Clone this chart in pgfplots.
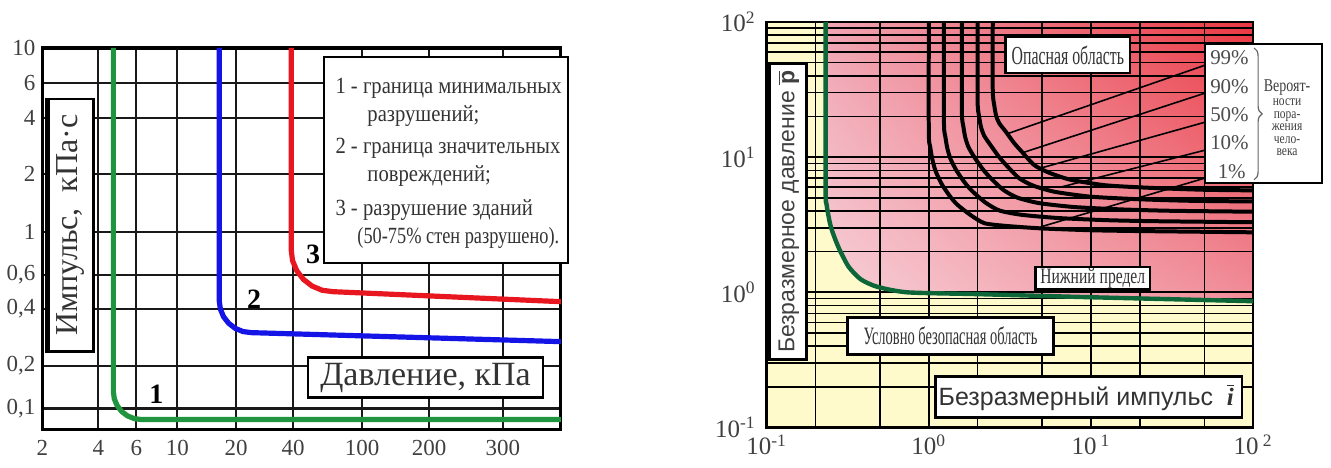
\documentclass[border=0pt]{standalone}
\usepackage{fontspec}
\setmainfont{Liberation Serif}
\setsansfont{Liberation Sans}
\usepackage{graphicx}
\usepackage{pgfplots}
\pgfplotsset{compat=1.18}
\usetikzlibrary{shadings,decorations.pathreplacing}

\definecolor{lineGreen}{RGB}{32,148,62}
\definecolor{lineBlue}{RGB}{20,20,230}
\definecolor{lineRed}{RGB}{232,22,30}
\definecolor{limitGreen}{RGB}{12,102,56}
\definecolor{safeYellow}{RGB}{255,250,204}
\definecolor{pinkLL}{RGB}{247,208,216}
\definecolor{pinkUL}{RGB}{240,164,178}
\definecolor{pinkLR}{RGB}{240,142,154}
\definecolor{pinkUR}{RGB}{234,55,65}

\newcommand{\cond}[2]{\scalebox{#1}[1]{#2}}

\begin{document}
\begin{tikzpicture}
\path (0,0) rectangle (665.5pt,234pt);

% ---------------- left: destruction of buildings ----------------
\begin{axis}[
  at={(20.5pt,19pt)}, anchor=south west,
  scale only axis, width=259.5pt, height=191pt,
  xmin=0, xmax=519, ymin=0, ymax=382,
  xtick={0,56,94,135,194,251,320,387,461},
  xticklabels={2,4,6,10,20,40,100,200,300},
  ytick={21,64,121,155,198,256,312,347,382},
  yticklabels={{0,1},{0,2},{0,4},{0,6},1,2,4,6,10},
  xmajorgrids, ymajorgrids,
  major grid style={black!90, line width=1.1pt},
  major tick length=0pt,
  axis line style={black, line width=1.6pt},
  tick label style={font=\fontsize{11.5}{12}\selectfont, text=black!75},
  xticklabel style={yshift=-2pt},
  set layers,
]
\addplot[lineGreen, line width=2.6pt] coordinates {(71,382) (71,38) (71.95,30.75) (74.75,24)
  (79.2,18.2) (85,13.75) (91.75,10.95) (99,10) (519,10)};
\addplot[lineBlue, line width=2.6pt] coordinates {(177,382) (177,129) (178.1,120.7) (181.3,113)
  (186.4,106.4) (193,101.3) (200.7,98.1) (209,97) (519,88)};
\addplot[lineRed, line width=2.6pt] coordinates {(249,382) (249,180) (250.4,169.1) (254.6,159)
  (261.3,150.3) (270,143.6) (280.1,139.4) (291,138) (519,128)};
\end{axis}

% ---------------- right: dimensionless pressure vs impulse ----------------
\begin{axis}[
  at={(383pt,20pt)}, anchor=south west,
  scale only axis, width=243.5pt, height=203pt,
  xmode=log, ymode=log,
  xmin=0.1, xmax=100, ymin=0.1, ymax=100,
  xtick={0.1,1,10,100},
  xticklabels={10\textsuperscript{-1},10\textsuperscript{0},10\,\textsuperscript{1},10\,\textsuperscript{2}},
  ytick={0.1,1,10,100},
  yticklabels={10\textsuperscript{-1},10\textsuperscript{0},10\textsuperscript{1},10\textsuperscript{2}},
  minor xtick={0.2,0.5,2,5,20,50},
  minor ytick={0.2,0.3,0.4,0.5,0.6,0.7,0.8,0.9,2,3,4,5,6,7,8,9,20,30,40,50,60,70,80,90},
  grid=both,
  major grid style={black, line width=1pt},
  minor grid style={black, line width=0.75pt},
  major tick length=0pt, minor tick length=0pt,
  axis line style={black, line width=1.3pt},
  tick label style={font=\fontsize{12.5}{13}\selectfont, text=black!75},
  yticklabel style={xshift=-2pt},
  set layers,
]
% safe region
\addplot[draw=none, fill=safeYellow, on layer=axis background]
  coordinates {(0.1,0.1) (100,0.1) (100,100) (0.1,100)};
% dangerous region above the lower limit
\addplot[draw=none, on layer=axis background,
  lower left=pinkLL, upper left=pinkUL, lower right=pinkLR, upper right=pinkUR]
  coordinates {(0.231,100) (0.231,6) (0.234,4.5) (0.245,3.3) (0.256,2.75) (0.28,2.1)
    (0.32,1.55) (0.38,1.25) (0.48,1.1) (0.74,1.0) (2,0.97) (10,0.92) (100,0.86) (100,100)};
% lower limit
\addplot[limitGreen, line width=2.2pt, smooth, tension=0.4]
  coordinates {(0.231,100) (0.231,6) (0.234,4.5) (0.245,3.3) (0.256,2.75) (0.28,2.1)
    (0.32,1.55) (0.38,1.25) (0.48,1.1) (0.74,1.0) (2,0.97) (10,0.92) (100,0.86)};
% probability curves 1%, 10%, 50%, 90%, 99%
\addplot[black, line width=2pt, smooth, tension=0.4] coordinates {
  (1.0,100) (1.0,15.29) (1.02,11.95) (1.05,9.73) (1.1,7.92) (1.2,6.34) (1.35,5.14)
  (1.5,4.45) (1.8,3.75) (2.2,3.25) (3,3.10) (5,2.97) (10,2.88) (20,2.84) (100,2.78)};
\addplot[black, line width=2pt, smooth, tension=0.4] coordinates {
  (1.24,100) (1.24,18.15) (1.265,14.19) (1.302,11.58) (1.364,9.64) (1.488,7.89) (1.674,6.44)
  (1.86,5.58) (2.232,4.62) (2.728,4.03) (3.72,3.75) (6.2,3.55) (12.4,3.42) (24.8,3.36) (100,3.3)};
\addplot[black, line width=2pt, smooth, tension=0.4] coordinates {
  (1.6,100) (1.6,21.73) (1.632,16.99) (1.68,13.94) (1.76,11.81) (1.92,9.91) (2.16,8.10)
  (2.4,7.03) (2.88,5.73) (3.52,5.02) (4.8,4.57) (8,4.27) (16,4.10) (32,4.01) (100,3.95)};
\addplot[black, line width=2pt, smooth, tension=0.4] coordinates {
  (2.0,100) (2.0,25.85) (2.04,20.21) (2.1,16.64) (2.2,14.34) (2.4,12.31) (2.7,10.11)
  (3.0,8.74) (3.6,7.00) (4.4,6.16) (6,5.54) (10,5.10) (20,4.88) (40,4.76) (100,4.7)};
\addplot[black, line width=2pt, smooth, tension=0.4] coordinates {
  (2.48,100) (2.48,31.24) (2.53,24.42) (2.604,20.16) (2.728,17.72) (2.976,15.51) (3.348,12.78)
  (3.72,11.08) (4.464,8.75) (5.456,7.72) (7.44,6.82) (12.4,6.19) (24.8,5.91) (49.6,5.74) (100,5.68)};
% leader lines to the probability labels
\addplot[black, line width=0.8pt] coordinates {(3.1,15) (51,48.1)};
\addplot[black, line width=0.8pt] coordinates {(3.8,10.8) (51,29.9)};
\addplot[black, line width=0.8pt] coordinates {(4.9,8.3) (51,18.2)};
\addplot[black, line width=0.8pt] coordinates {(6.5,6.0) (51,11.3)};
\addplot[black, line width=0.8pt] coordinates {(4.9,3.05) (51,7.03)};
\end{axis}

% ---------------- captions and framed labels ----------------
\begin{scope}[shift={(0,234pt)}, x=0.5pt, y=-0.5pt]
  % left chart
  \node[font=\bfseries\fontsize{14}{14}\selectfont] at (155,395) {1};
  \node[font=\bfseries\fontsize{14}{14}\selectfont] at (253,300) {2};
  \node[font=\bfseries\fontsize{14}{14}\selectfont] at (312,255) {3};

  \draw[fill=white, line width=1.2pt] (323,57) rectangle (567,263);
  \begin{scope}[every node/.style={anchor=west, inner sep=0pt, text=black!80,
      font=\fontsize{11.6}{12}\selectfont}]
    \node at (334,88) {\cond{0.89}{1 - граница минимальных}};
    \node at (366,116) {\cond{0.89}{разрушений;}};
    \node at (334,148) {\cond{0.89}{2 - граница значительных}};
    \node at (366,176) {\cond{0.89}{повреждений;}};
    \node at (334,210) {\cond{0.89}{3 - разрушение зданий}};
    \node at (356,238) {\cond{0.79}{(50-75\% стен разрушено).}};
  \end{scope}

  \draw[fill=white, line width=1.2pt] (307,358) rectangle (542,398);
  \node[font=\fontsize{17}{17}\selectfont, text=black!80] at (424.5,378) {Давление, кПа};

  \draw[fill=white, line width=1.2pt] (45,99) rectangle (92,352);
  \draw[line width=2.6pt] (46,99) -- (46,352);
  \node[rotate=90, font=\fontsize{16}{16}\selectfont, text=black!80] at (69,225.5) {Импульс,\ \ кПа·с};

  % right chart
  \draw[fill=white, line width=1.2pt] (767,64) rectangle (806,360);
  \draw[line width=2.6pt] (768,64) -- (768,360);
  \node[rotate=90, font=\sffamily\fontsize{11.5}{12}\selectfont, text=black!75] at (788,212)
    {Безразмерное давление $\overline{\mbox{\sffamily\bfseries p}}$};

  \draw[fill=white, line width=1.2pt] (1005,37) rectangle (1130,73);
  \node[font=\fontsize{13}{13}\selectfont, text=black!80] at (1067.5,55) {\cond{0.61}{Опасная область}};

  \draw[fill=white, line width=1.2pt] (1035,267) rectangle (1150,290);
  \node[font=\fontsize{11}{11}\selectfont, text=black!80] at (1092.5,278.5) {\cond{0.71}{Нижний предел}};

  \draw[fill=white, line width=1.2pt] (847,318) rectangle (1053,355);
  \node[font=\fontsize{12.5}{12.5}\selectfont, text=black!80] at (950,336.5) {\cond{0.58}{Условно безопасная область}};

  \draw[fill=white, line width=1.2pt] (935,377) rectangle (1242,418);
  \node[font=\sffamily\fontsize{12.5}{13}\selectfont, text=black!80] at (1086,397.5)
    {Безразмерный импульс\ \ $\overline{\mbox{\rmfamily\bfseries\itshape i}}$};

  \draw[fill=white, line width=1.2pt] (1205,44) rectangle (1322,183);
  \begin{scope}[every node/.style={anchor=east, inner sep=0pt, text=black!70,
      font=\fontsize{10.5}{11}\selectfont}]
    \node at (1249,58) {99\%};
    \node at (1249,87) {90\%};
    \node at (1249,115) {50\%};
    \node at (1249,143) {10\%};
    \node at (1246,172) {1\%};
  \end{scope}
  \draw[black!60, line width=0.6pt, decorate, decoration={brace, amplitude=4pt}] (1254,48) -- (1254,180);
  \begin{scope}[every node/.style={anchor=base, inner sep=0pt, text=black!75,
      font=\fontsize{7.2}{7.2}\selectfont}]
    \node at (1287,92) {\fontsize{9}{9}\selectfont\cond{0.78}{Вероят-}};
    \node at (1287,106) {\cond{0.8}{ности}};
    \node at (1287,118.5) {\cond{0.8}{пора-}};
    \node at (1287,131) {\cond{0.8}{жения}};
    \node at (1287,143.5) {\cond{0.8}{чело-}};
    \node at (1287,156) {\cond{0.8}{века}};
  \end{scope}
\end{scope}
\end{tikzpicture}
\end{document}
